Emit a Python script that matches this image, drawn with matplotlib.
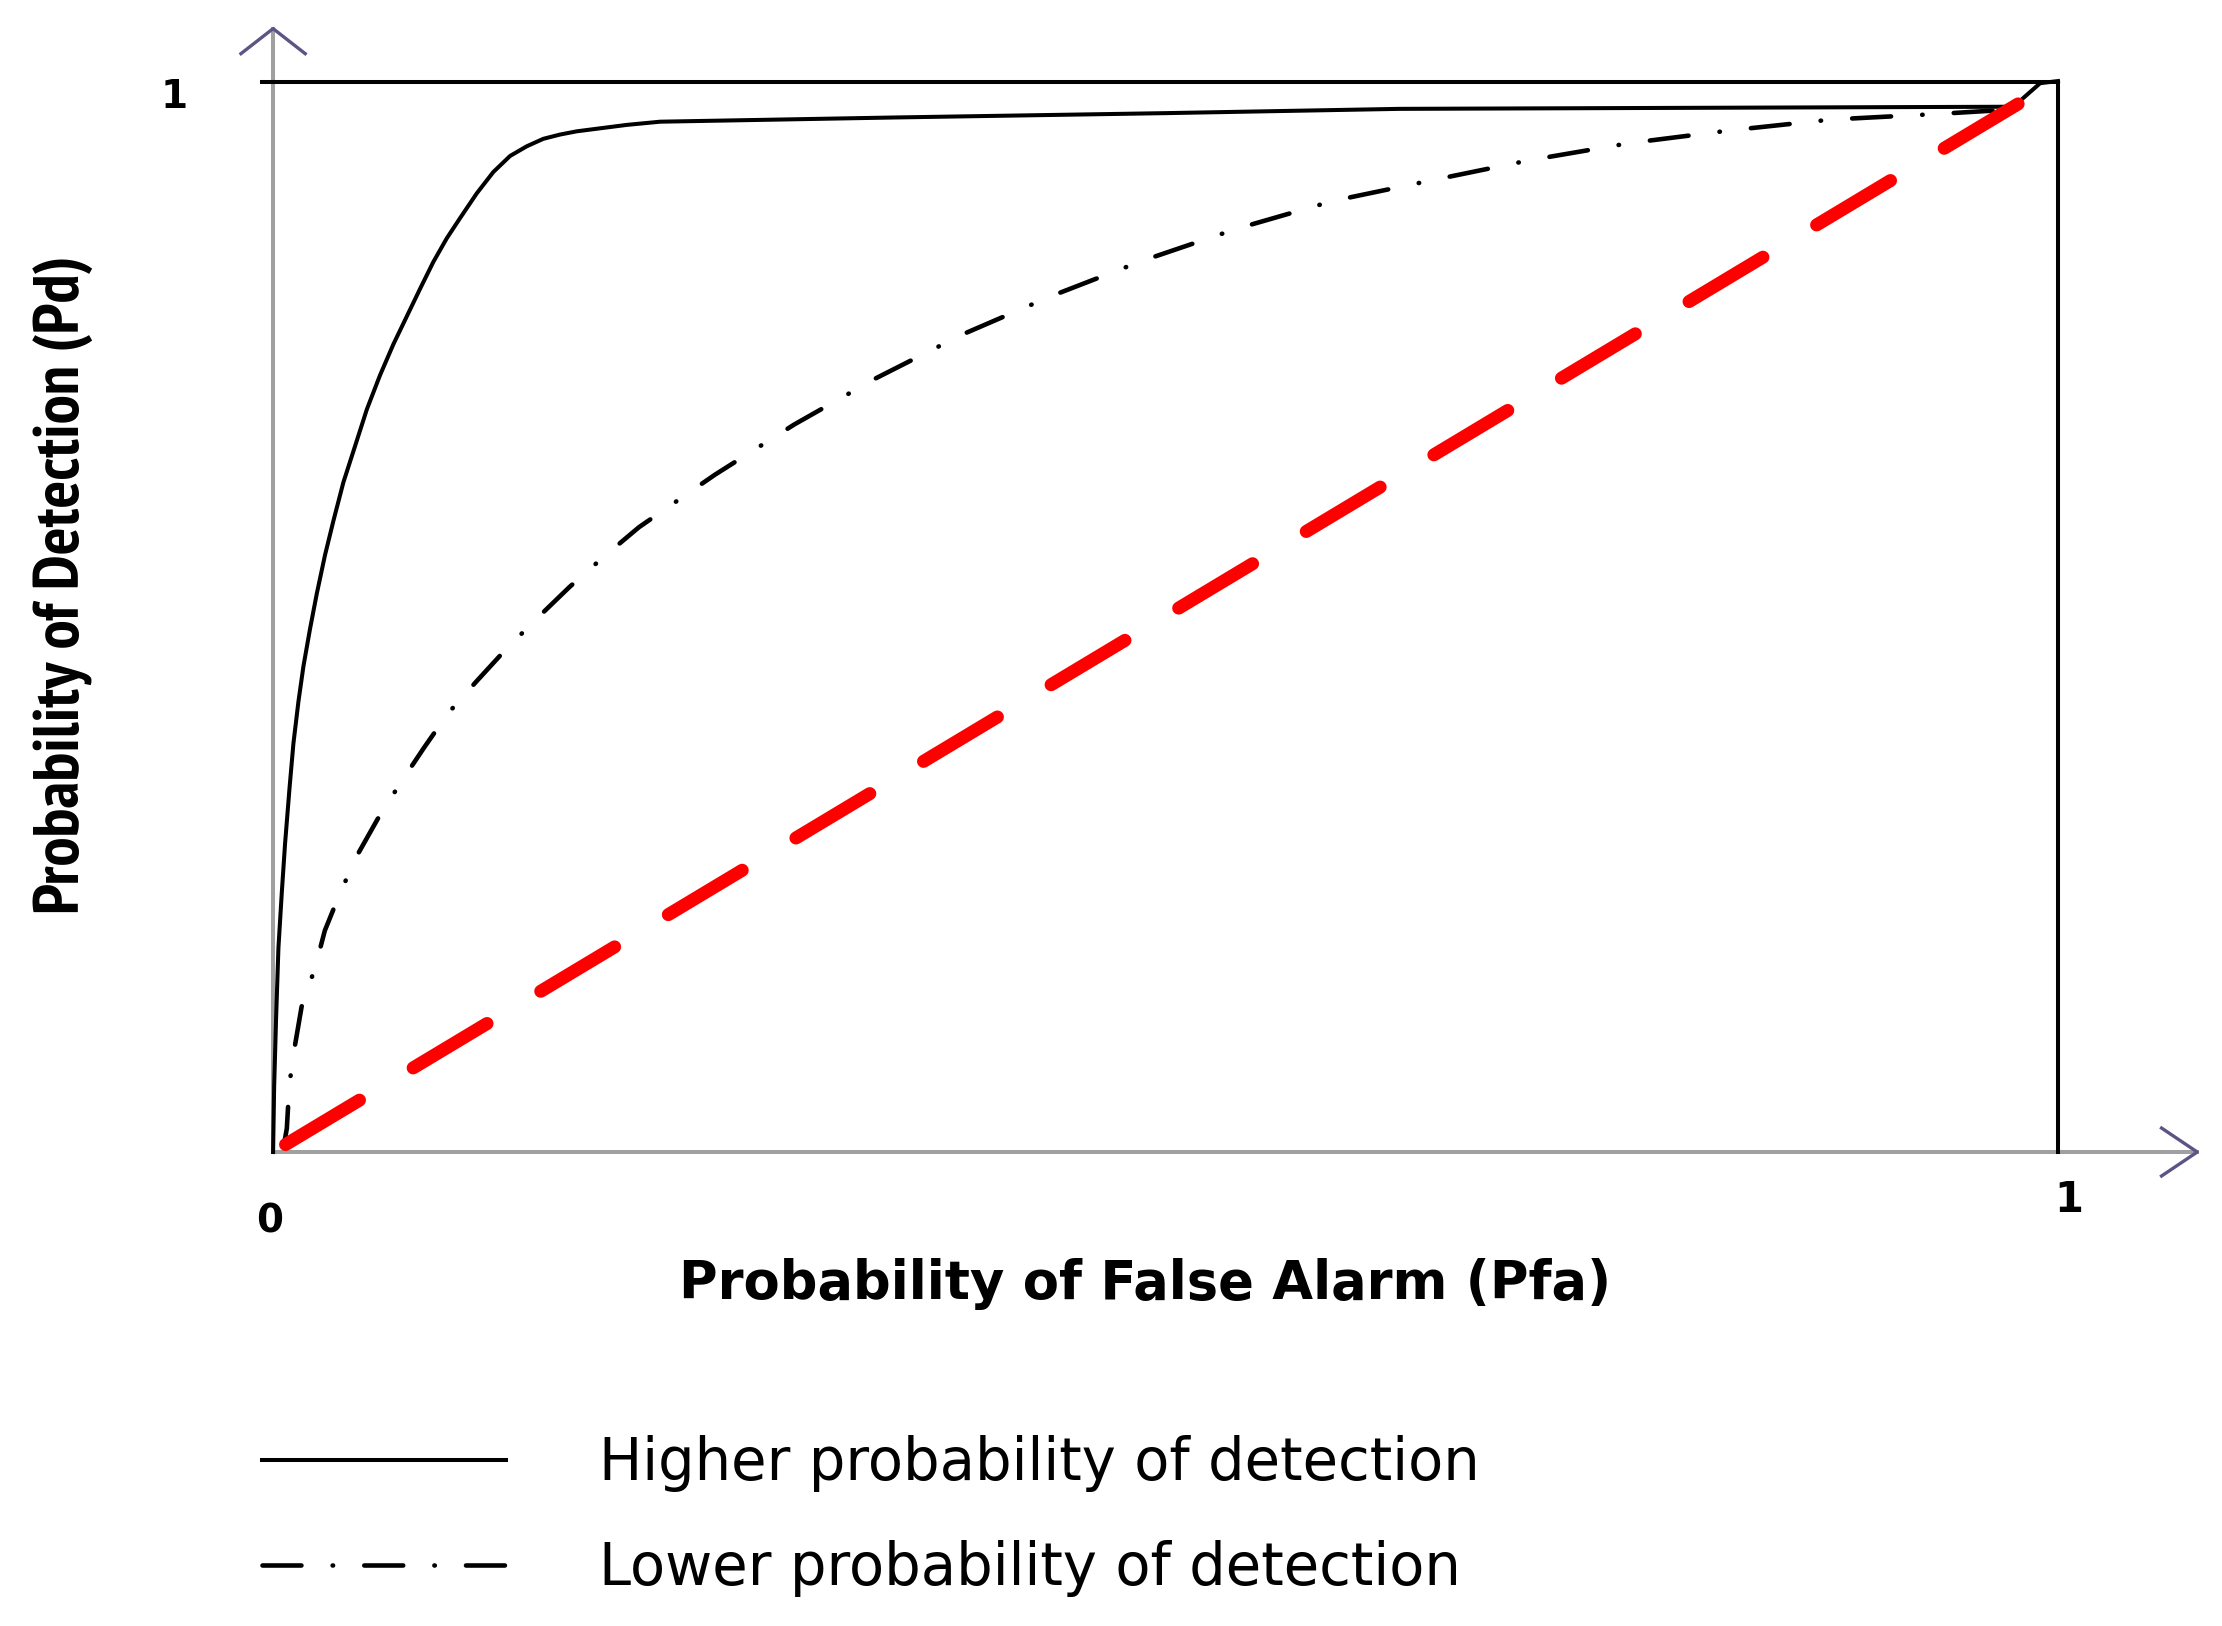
import matplotlib
matplotlib.use("Agg")
import matplotlib.pyplot as plt

# ROC curves
pfa_high = [0, 0.0006, 0.0017, 0.003, 0.0049, 0.0067, 0.0092, 0.0114, 0.0142, 0.0170,
            0.0207, 0.0245, 0.0291, 0.0338, 0.0394, 0.0450, 0.0525, 0.0599, 0.0674, 0.0749,
            0.0824, 0.0898, 0.0973, 0.1048, 0.1141, 0.1234, 0.1328, 0.1421, 0.1514, 0.1608,
            0.1701, 0.1794, 0.1981, 0.2168, 0.35, 0.5, 0.631, 0.8, 0.975, 0.99, 1.0]
pd_high = [0, 0.0614, 0.126, 0.191, 0.243, 0.288, 0.340, 0.382, 0.421, 0.454,
           0.489, 0.522, 0.558, 0.590, 0.626, 0.655, 0.694, 0.726, 0.755, 0.781,
           0.807, 0.832, 0.854, 0.873, 0.896, 0.916, 0.931, 0.940, 0.947, 0.951,
           0.954, 0.956, 0.960, 0.963, 0.967, 0.971, 0.975, 0.976, 0.977, 0.999, 1.001]

pfa_low = [0.006, 0.0077, 0.0091, 0.0123, 0.016, 0.0235, 0.029, 0.0375, 0.047, 0.0585,
           0.071, 0.0846, 0.098, 0.114, 0.1305, 0.148, 0.166, 0.185, 0.205, 0.2475,
           0.292, 0.3375, 0.386, 0.436, 0.487, 0.540, 0.594, 0.6485, 0.704, 0.760,
           0.817, 0.873, 0.930, 0.970]
pd_low = [0.006, 0.022, 0.063, 0.100, 0.136, 0.172, 0.207, 0.242, 0.277, 0.311,
          0.344, 0.378, 0.410, 0.440, 0.470, 0.499, 0.528, 0.556, 0.584, 0.633,
          0.680, 0.723, 0.764, 0.800, 0.833, 0.863, 0.889, 0.908, 0.927, 0.943,
          0.955, 0.965, 0.970, 0.974]

pfa_chance = [0.007, 0.987]
pd_chance = [0.007, 0.989]

labels = ["Higher probability of detection", "Lower probability of detection"]
x_title = "Probability of False Alarm (Pfa)"
y_title = "Probability of Detection (Pd)"

fig = plt.figure(figsize=(22.22, 16.26), dpi=100)
ax = fig.add_axes([0.1229, 0.2915, 0.8033, 0.658])
ax.set_xlim(0, 1)
ax.set_ylim(0, 1)
ax.axis("off")

gray = "#a0a0a0"
arrow_col = "#5b5585"

# axes drawn by hand: gray lines with open chevrons
ax.plot([0, 0], [0, 1.05], color=gray, lw=2.9, clip_on=False, zorder=1)
ax.plot([0, 1.078], [0, 0], color=gray, lw=2.9, clip_on=False, zorder=1)
ax.plot([-0.018, 0, 0.018], [1.0266, 1.05, 1.0266], color=arrow_col, lw=2.4, clip_on=False)
ax.plot([1.058, 1.078, 1.058], [0.0224, 0, -0.0224], color=arrow_col, lw=2.4, clip_on=False)

# top and right borders
ax.plot([-0.006, 1.0, 1.0], [1.0, 1.0, 0.0], color="black", lw=2.9, clip_on=False,
        solid_joinstyle="miter")

# curves
ax.plot(pfa_high, pd_high, color="black", lw=2.9, label=labels[0], clip_on=False, zorder=3,
        solid_joinstyle="round")
ax.plot(pfa_low, pd_low, color="black", lw=3.3, label=labels[1], clip_on=False, zorder=3,
        dashes=(8.5, 6.8, 0.1, 6.8), dash_capstyle="round")
ax.plot(pfa_chance, pd_chance, color="#ff0000", lw=9.4, dashes=(6.6, 4.8),
        dash_capstyle="round", zorder=4)

# tick values
ax.text(-0.0555, 0.986, "1", ha="center", va="center", fontsize=28, fontweight="bold")
ax.text(-0.002, -0.065, "0", ha="center", va="center", fontsize=28, fontweight="bold")
ax.text(1.006, -0.045, "1", ha="center", va="center", fontsize=30, fontweight="bold")

fig.text(0.5153, 0.2103, x_title, ha="center", va="center", fontsize=38, fontweight="bold")
fig.text(0.0285, 0.6405, y_title, ha="center", va="center", rotation=90, fontsize=47,
         fontweight="bold", family=["PT Sans Narrow", "DejaVu Sans"])

fig.legend(loc="upper left", bbox_to_anchor=(0.1179, 0.1172), frameon=False,
           fontsize=41.5, handlelength=4.24, handletextpad=1.61, labelspacing=0.83,
           borderpad=0, borderaxespad=0)

fig.savefig("out.png", dpi=100)
